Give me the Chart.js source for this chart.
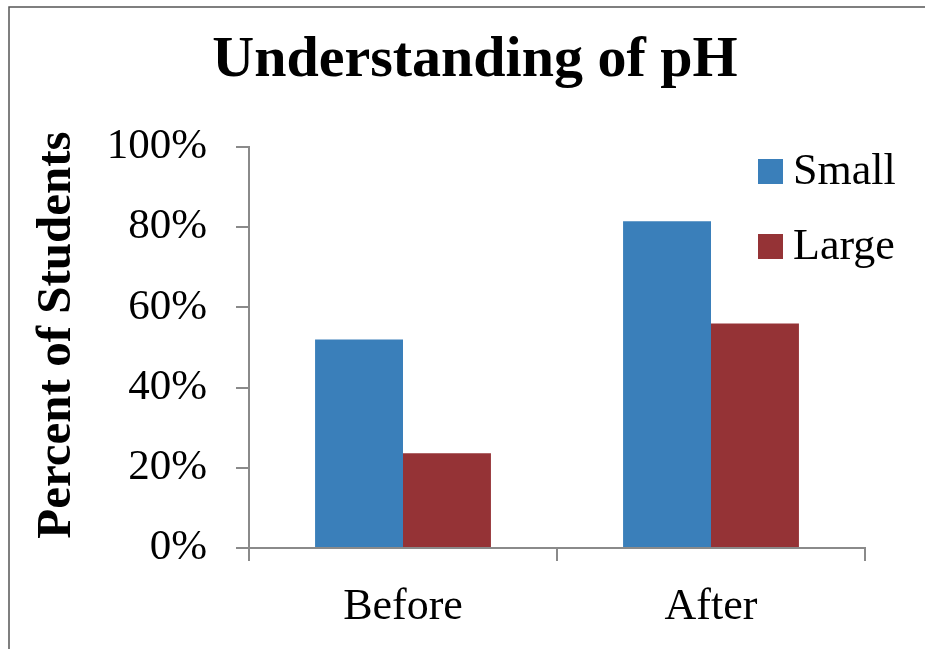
<!DOCTYPE html>
<html>
<head>
<meta charset="utf-8">
<script src="https://cdn.jsdelivr.net/npm/chart.js@4/dist/chart.umd.min.js"></script>
<style>
  html, body { margin: 0; padding: 0; background: #fff; }
  #wrap { width: 925px; height: 649px; }
</style>
</head>
<body>
<div id="wrap"><canvas id="chart" width="925" height="649"></canvas></div>
<script>
const labels = ['Before', 'After']
const small_values = [52, 81.5]
const large_values = [23.6, 56]
const series_names = ['Small', 'Large']
const chart_title = 'Understanding of pH'
const y_title = 'Percent of Students'

const serif = "'Liberation Serif', 'DejaVu Serif', serif"
const axisGray = '#8a8a8a'

// frame, title, y title and the legend on the right
const decorPlugin = {
  id: 'decor',
  beforeDraw(chart) {
    const ctx = chart.ctx
    ctx.save()
    ctx.fillStyle = '#fff'
    ctx.fillRect(0, 0, chart.width, chart.height)
    ctx.strokeStyle = '#555'
    ctx.lineWidth = 1.5
    ctx.beginPath()
    ctx.moveTo(9, chart.height)
    ctx.lineTo(9, 7)
    ctx.lineTo(chart.width, 7)
    ctx.stroke()
    ctx.restore()
  },
  afterDraw(chart) {
    const ctx = chart.ctx
    ctx.save()
    ctx.fillStyle = '#000'
    ctx.textAlign = 'center'
    ctx.textBaseline = 'alphabetic'
    ctx.font = 'bold 58px ' + serif
    ctx.fillText(chart_title, 475, 76)

    ctx.save()
    ctx.translate(70, 335)
    ctx.rotate(-Math.PI / 2)
    ctx.font = 'bold 49px ' + serif
    ctx.fillText(y_title, 0, 0)
    ctx.restore()

    ctx.textAlign = 'left'
    ctx.textBaseline = 'middle'
    ctx.font = '44px ' + serif
    chart.data.datasets.forEach((ds, i) => {
      const y = 159 + i * 75
      ctx.fillStyle = ds.backgroundColor
      ctx.fillRect(758, y, 25, 25)
      ctx.fillStyle = '#000'
      ctx.fillText(ds.label, 793, y + 13)
    })
    ctx.restore()
  }
}

new Chart(document.getElementById('chart'), {
  type: 'bar',
  data: {
    labels: labels,
    datasets: [{
      label: series_names[0],
      backgroundColor: '#3a7fba',
      data: small_values
    }, {
      label: series_names[1],
      backgroundColor: '#953336',
      data: large_values
    }]
  },
  plugins: [decorPlugin],
  options: {
    responsive: false,
    animation: false,
    layout: { padding: { left: 0, right: 60, top: 147, bottom: 0 } },
    datasets: {
      bar: { categoryPercentage: 0.571, barPercentage: 1 }
    },
    plugins: {
      legend: { display: false },
      tooltip: { enabled: false },
      title: { display: false }
    },
    scales: {
      x: {
        afterFit(scale) { scale.height = 101 },
        grid: {
          offset: true,
          drawOnChartArea: false,
          color: axisGray,
          lineWidth: 2,
          tickLength: 13
        },
        border: { color: axisGray, width: 2 },
        ticks: {
          color: '#000',
          padding: 20,
          font: { family: serif, size: 44 }
        }
      },
      y: {
        min: 0,
        max: 100,
        afterFit(scale) { scale.width = 249 },
        grid: {
          drawOnChartArea: false,
          color: axisGray,
          lineWidth: 2,
          tickLength: 13
        },
        border: { color: axisGray, width: 2 },
        ticks: {
          stepSize: 20,
          color: '#000',
          padding: 29,
          font: { family: serif, size: 43 },
          callback: v => v + '%'
        }
      }
    }
  }
})
</script>
</body>
</html>
